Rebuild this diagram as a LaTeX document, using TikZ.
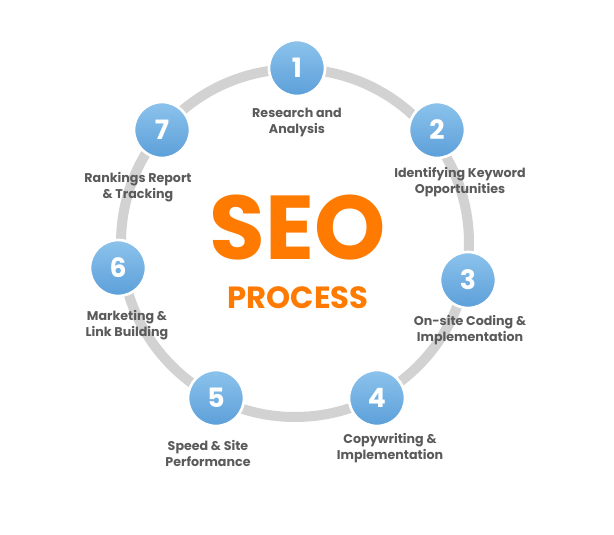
\documentclass[tikz,border=0pt]{standalone}
\usepackage{fontspec}
\setmainfont{Poppins}
\usetikzlibrary{positioning}
\definecolor{seoorange}{HTML}{FF7A00}
\definecolor{steptop}{HTML}{8CC3EC}
\definecolor{stepbot}{HTML}{5C9FD9}
\definecolor{labelgray}{HTML}{5A5A5A}
\definecolor{ringgray}{HTML}{D2D2D2}

\begin{document}
\begin{tikzpicture}[
  x=0.75pt, y=-0.75pt,
  stepnum/.style={circle, minimum size=42pt, top color=steptop, bottom color=stepbot,
    draw=white, line width=2pt, text=white, font=\bfseries\fontsize{20}{20}\selectfont},
  steplabel/.style={align=center, text=labelgray, font=\bfseries\fontsize{9.5}{12}\selectfont}
]
\useasboundingbox (0,0) rectangle (614,535);

% ring
\draw[white, line width=14pt] (295,243) circle [radius=174];
\draw[ringgray, line width=7.5pt] (295,243) circle [radius=174];

% steps
\node[stepnum] (s1) at (297,68) {1};
\node[stepnum] (s2) at (437,130) {2};
\node[stepnum] (s3) at (468,280) {3};
\node[stepnum] (s4) at (377,398) {4};
\node[stepnum] (s5) at (216,398) {5};
\node[stepnum] (s6) at (118,268) {6};
\node[stepnum] (s7) at (162,130) {7};

% labels
\node[steplabel] (l1) at (297,122) {Research and\\Analysis};
\node[steplabel] (l2) at (460,182) {Identifying Keyword\\Opportunities};
\node[steplabel] (l3) at (470,330) {On-site Coding \&\\Implementation};
\node[steplabel] (l4) at (390,448) {Copywriting \&\\Implementation};
\node[steplabel] (l5) at (208,453) {Speed \& Site\\Performance};
\node[steplabel] (l6) at (127,325) {Marketing \&\\Link Building};
\node[steplabel] (l7) at (138,187) {Rankings Report\\\& Tracking};

% title
\node[text=seoorange, font=\bfseries\fontsize{68}{68}\selectfont] (seo) at (298,228) {SEO};
\node[text=seoorange, font=\bfseries\fontsize{23}{23}\selectfont] (process) at (298,298) {PROCESS};
\end{tikzpicture}
\end{document}
